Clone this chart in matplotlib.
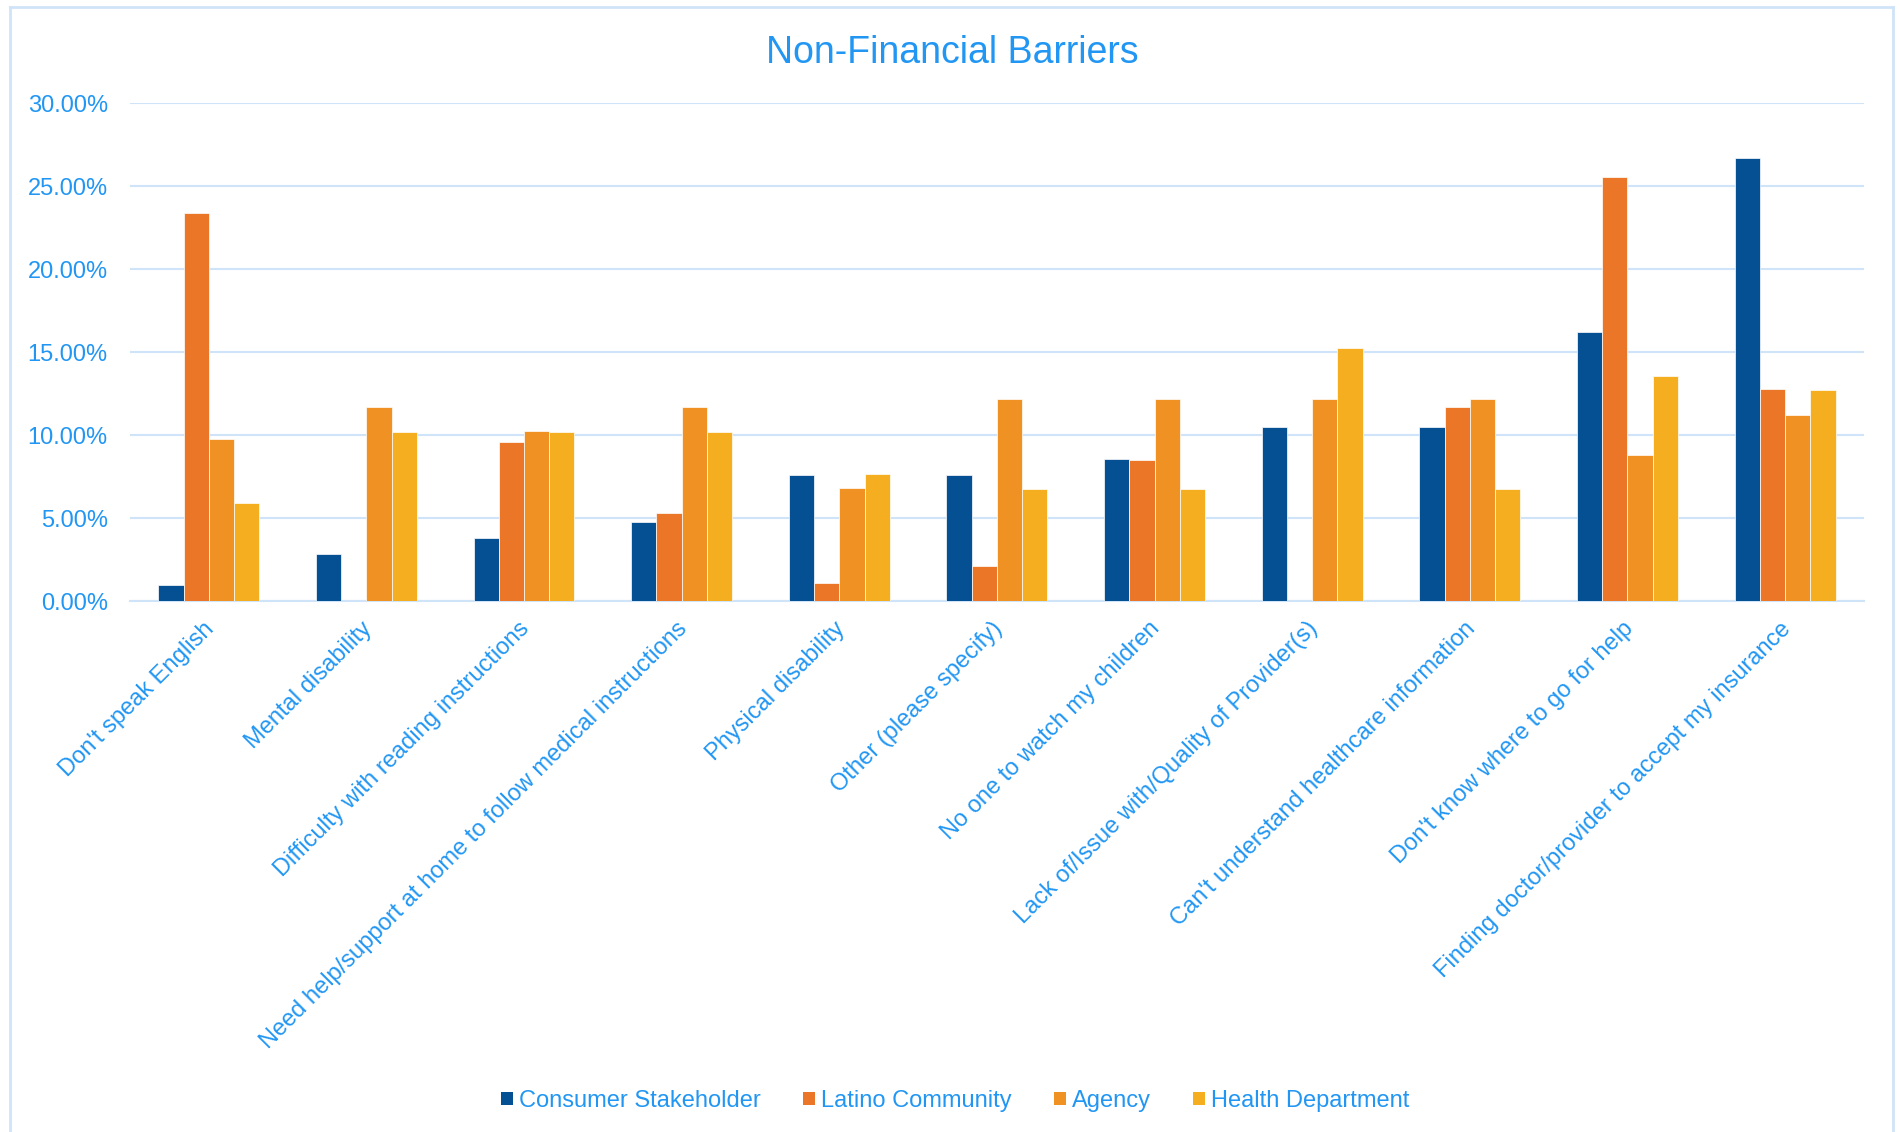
import numpy as np
import matplotlib.pyplot as plt
from matplotlib.patches import Patch
from matplotlib.transforms import ScaledTranslation

plt.rcParams['font.family'] = ['Liberation Sans', 'DejaVu Sans']

categories = [
    "Don't speak English",
    "Mental disability",
    "Difficulty with reading instructions",
    "Need help/support at home to follow medical instructions",
    "Physical disability",
    "Other (please specify)",
    "No one to watch my children",
    "Lack of/Issue with/Quality of Provider(s)",
    "Can't understand healthcare information",
    "Don't know where to go for help",
    "Finding doctor/provider to accept my insurance",
]

consumer = [0.95, 2.86, 3.81, 4.76, 7.62, 7.62, 8.57, 10.48, 10.48, 16.19, 26.67]
latino = [23.40, 0.0, 9.57, 5.32, 1.06, 2.13, 8.51, 0.0, 11.70, 25.53, 12.77]
agency = [9.76, 11.71, 10.24, 11.71, 6.83, 12.20, 12.20, 12.20, 12.20, 8.78, 11.22]
health = [5.93, 10.17, 10.17, 10.17, 7.63, 6.78, 6.78, 15.25, 6.78, 13.56, 12.71]

series_names = ["Consumer Stakeholder", "Latino Community", "Agency", "Health Department"]
colors = ["#054F93", "#EB7628", "#F09123", "#F5AE20"]
text_color = "#2196F3"
grid_color = "#CFE4F8"

fig = plt.figure(figsize=(19, 11.32), dpi=100)
ax = fig.add_axes([0.0684, 0.469, 0.9126, 0.440])

# figure border (no bottom edge visible)
fig.add_artist(plt.Line2D([10 / 1900, 10 / 1900], [0, 1 - 7 / 1132], transform=fig.transFigure,
                          color=grid_color, lw=2))
fig.add_artist(plt.Line2D([1893 / 1900, 1893 / 1900], [0, 1 - 7 / 1132], transform=fig.transFigure,
                          color=grid_color, lw=2))
fig.add_artist(plt.Line2D([10 / 1900, 1893 / 1900], [1 - 7 / 1132, 1 - 7 / 1132], transform=fig.transFigure,
                          color=grid_color, lw=2))

x = np.arange(len(categories))
w = 0.16
all_series = [consumer, latino, agency, health]
for i, (vals, name, c) in enumerate(zip(all_series, series_names, colors)):
    ax.bar(x + (i - 1.5) * w, vals, width=w, color=c, edgecolor="white", linewidth=0.5,
           label=name, zorder=3)

ax.set_xlim(-0.5, len(categories) - 0.5)
ax.set_ylim(0, 30)
ax.set_yticks(np.arange(0, 31, 5))
ax.set_yticklabels([f"{v:.2f}%" for v in np.arange(0, 31, 5)])
ax.yaxis.grid(True, color=grid_color, linewidth=1.5, zorder=0)
ax.set_axisbelow(True)
for s in ["top", "right", "left"]:
    ax.spines[s].set_visible(False)
ax.spines["bottom"].set_color(grid_color)
ax.spines["bottom"].set_linewidth(1.5)
ax.tick_params(axis="both", length=0, colors=text_color, labelsize=17)
ax.tick_params(axis="y", pad=16)

ax.set_xticks(x)
ax.set_xticklabels(categories, rotation=45, ha="right", va="top", rotation_mode="anchor")
ax.tick_params(axis="x", pad=12)
offset = ScaledTranslation(-4 / 72, 0, fig.dpi_scale_trans)
for lbl in ax.get_xticklabels():
    lbl.set_transform(lbl.get_transform() + offset)

fig.text(952 / 1900, 1 - 53 / 1132, "Non-Financial Barriers", ha="center", va="center",
         fontsize=27, color=text_color)

handles = [Patch(facecolor=c, edgecolor="none") for c in colors]
fig.legend(handles, series_names, loc="center", bbox_to_anchor=(955 / 1900, 1 - 1101 / 1132),
           ncol=4, frameon=False, fontsize=17, labelcolor=text_color,
           handlelength=0.5, handleheight=0.5, handletextpad=0.25, columnspacing=1.8)

fig.savefig("out.png", dpi=100, facecolor="white")
